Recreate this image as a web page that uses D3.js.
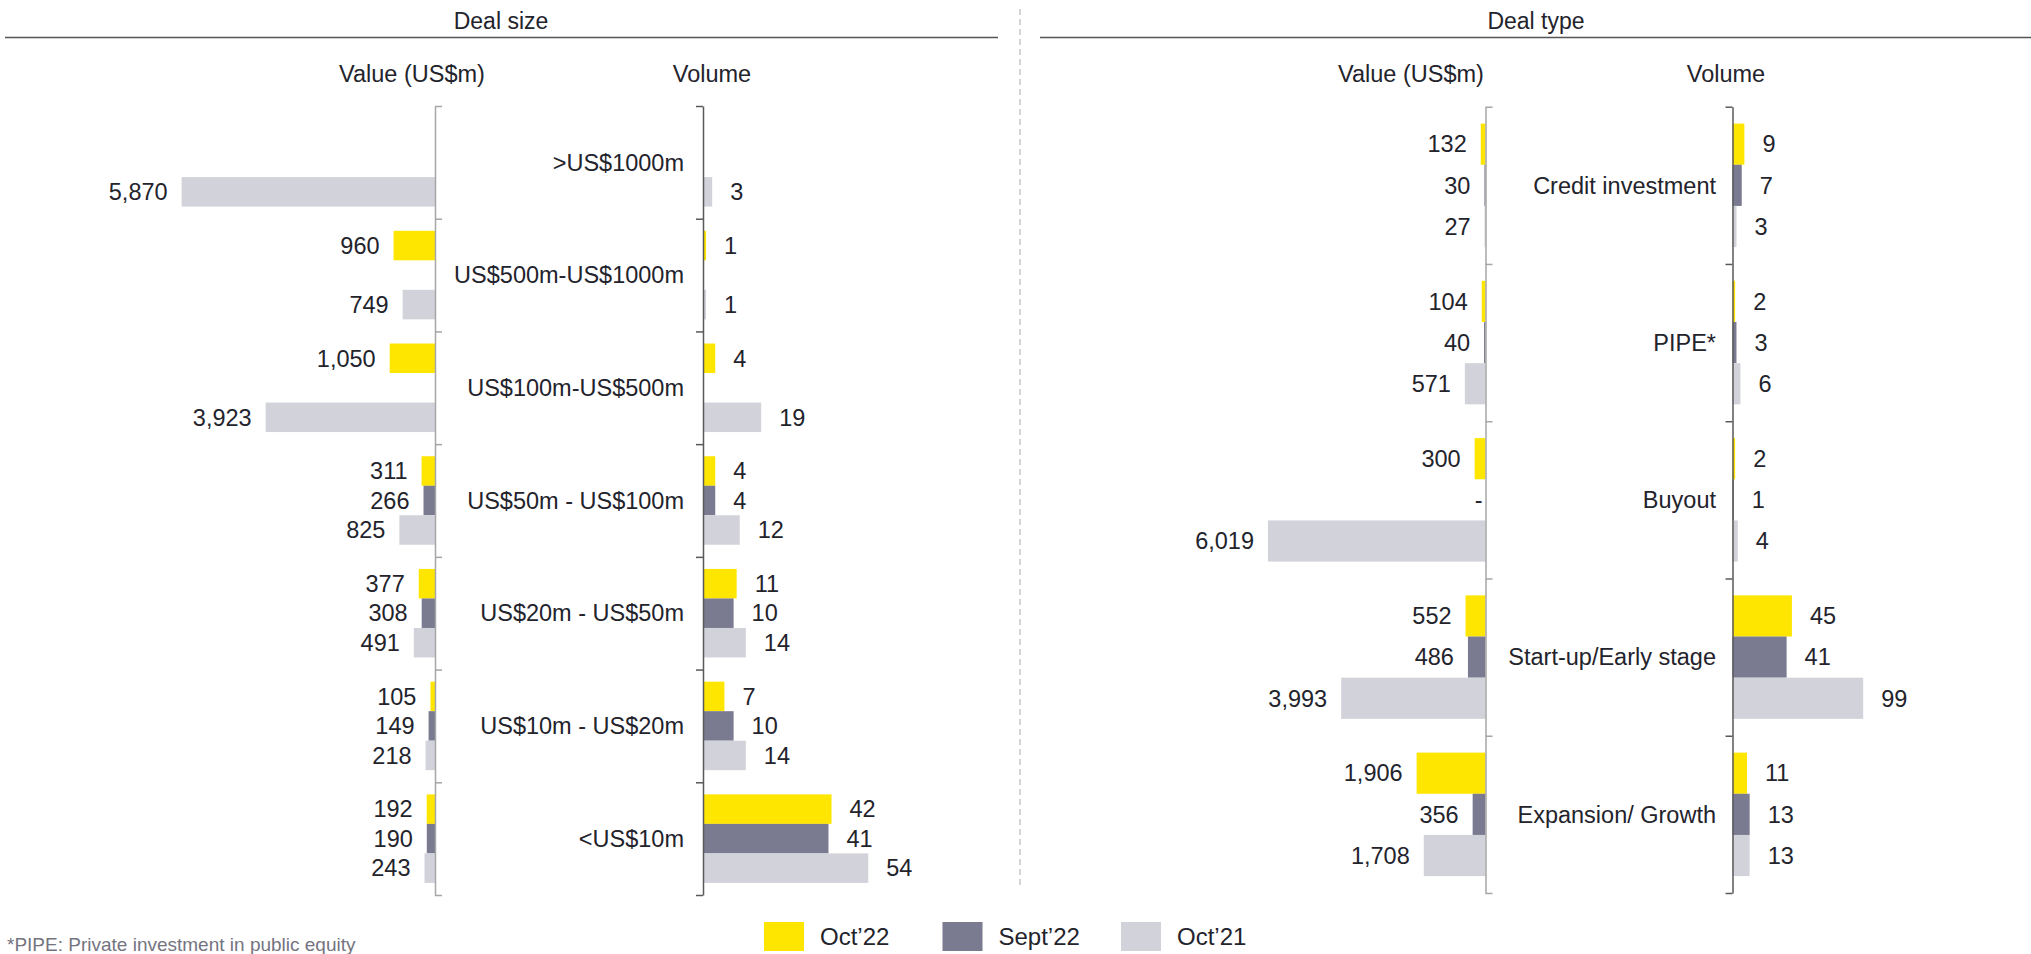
<!DOCTYPE html>
<html>
<head>
<meta charset="utf-8">
<script src="https://cdn.jsdelivr.net/npm/d3@7"></script>
<style>
  html, body { margin: 0; padding: 0; background: #fff; }
  svg text { font-family: "Liberation Sans", Arial, sans-serif; fill: #23232c; }
</style>
</head>
<body>
<script>
// chart size
let w = 2031;
let h = 954;

// series
let seriesNames = ["Oct’22", "Sept’22", "Oct’21"];
let seriesColors = ["#ffe600", "#7a7a90", "#d2d2da"];

// Deal size panel
let sizeCats = [">US$1000m", "US$500m-US$1000m", "US$100m-US$500m", "US$50m - US$100m",
                "US$20m - US$50m", "US$10m - US$20m", "<US$10m"];
let sizeValueOct22  = [null, 960, 1050, 311, 377, 105, 192];
let sizeValueSept22 = [null, null, null, 266, 308, 149, 190];
let sizeValueOct21  = [5870, 749, 3923, 825, 491, 218, 243];
let sizeVolOct22  = [null, 1, 4, 4, 11, 7, 42];
let sizeVolSept22 = [null, null, null, 4, 10, 10, 41];
let sizeVolOct21  = [3, 1, 19, 12, 14, 14, 54];

// Deal type panel
let typeCats = ["Credit investment", "PIPE*", "Buyout", "Start-up/Early stage", "Expansion/ Growth"];
let typeValueOct22  = [132, 104, 300, 552, 1906];
let typeValueSept22 = [30, 40, 0, 486, 356];
let typeValueOct21  = [27, 571, 6019, 3993, 1708];
let typeVolOct22  = [9, 2, 2, 45, 11];
let typeVolSept22 = [7, 3, 1, 41, 13];
let typeVolOct21  = [3, 6, 4, 99, 13];

let fmt = d3.format(",");

let svg = d3.select("body").append("svg")
    .attr("width", w)
    .attr("height", h);

//section titles + rules
svg.append("text").attr("x", 501).attr("y", 29).attr("text-anchor", "middle")
    .style("font-size", "23px").text("Deal size");
svg.append("line").attr("x1", 5).attr("x2", 998).attr("y1", 37.5).attr("y2", 37.5)
    .style("stroke", "#555").style("stroke-width", 1.5);
svg.append("text").attr("x", 1536).attr("y", 29).attr("text-anchor", "middle")
    .style("font-size", "23px").text("Deal type");
svg.append("line").attr("x1", 1040).attr("x2", 2031).attr("y1", 37.5).attr("y2", 37.5)
    .style("stroke", "#555").style("stroke-width", 1.5);

//dashed divider
svg.append("line").attr("x1", 1020).attr("x2", 1020).attr("y1", 9).attr("y2", 888)
    .style("stroke", "#c8c8c8").style("stroke-width", 1.5)
    .style("stroke-dasharray", "6,4");

function drawPanel(cfg, cats, valueSeries, volSeries) {
    let g = svg.append("g");

    let y = d3.scaleBand().domain(cats).range([cfg.top, cfg.bottom]).padding(0);
    let ys = d3.scaleBand().domain(seriesNames).range([0, y.bandwidth()])
        .paddingInner(0).paddingOuter(0.41);

    let xv = d3.scaleLinear().domain([0, cfg.valueMax]).range([cfg.valueX, cfg.valueX - cfg.valueW]);
    let xn = d3.scaleLinear().domain([0, cfg.volMax]).range([cfg.volX, cfg.volX + cfg.volW]);

    // sub headers
    g.append("text").attr("x", cfg.valueHead).attr("y", 82).attr("text-anchor", "middle")
        .style("font-size", "23.5px").text("Value (US$m)");
    g.append("text").attr("x", cfg.volHead).attr("y", 82).attr("text-anchor", "middle")
        .style("font-size", "23.5px").text("Volume");

    // flatten rows
    let rows = [];
    cats.forEach(function(c, i) {
        seriesNames.forEach(function(s, j) {
            rows.push({ cat: c, s: s, j: j, value: valueSeries[j][i], vol: volSeries[j][i] });
        });
    });

    // value bars (to the left)
    g.selectAll(".vbar").data(rows.filter(function(d) { return d.value > 0; }))
        .enter().append("rect")
        .attr("x", function(d) { return xv(d.value); })
        .attr("y", function(d) { return y(d.cat) + ys(d.s); })
        .attr("width", function(d) { return cfg.valueX - xv(d.value); })
        .attr("height", ys.bandwidth())
        .style("fill", function(d) { return seriesColors[d.j]; });

    // volume bars (to the right)
    g.selectAll(".nbar").data(rows.filter(function(d) { return d.vol > 0; }))
        .enter().append("rect")
        .attr("x", cfg.volX)
        .attr("y", function(d) { return y(d.cat) + ys(d.s); })
        .attr("width", function(d) { return xn(d.vol) - cfg.volX; })
        .attr("height", ys.bandwidth())
        .style("fill", function(d) { return seriesColors[d.j]; });

    // axes: index scale so ticks fall on band edges
    let yi = d3.scaleLinear().domain([0, cats.length]).range([cfg.top, cfg.bottom]);
    let axV = g.append("g").attr("transform", "translate(" + cfg.valueX + ",0)")
        .call(d3.axisRight(yi).ticks(cats.length).tickSize(7).tickSizeOuter(0).tickFormat(""));
    axV.selectAll("path, line").style("stroke", "#a6a6a6").style("stroke-width", 1.5);
    let axN = g.append("g").attr("transform", "translate(" + cfg.volX + ",0)")
        .call(d3.axisLeft(yi).ticks(cats.length).tickSize(7).tickSizeOuter(0).tickFormat(""));
    axN.selectAll("path, line").style("stroke", "#595959").style("stroke-width", 1.5);

    // value labels
    g.selectAll(".vlab").data(rows.filter(function(d) { return d.value !== null; }))
        .enter().append("text")
        .attr("x", function(d) { return d.value === 0 ? cfg.valueX - 3 : xv(d.value) - 14; })
        .attr("y", function(d) { return y(d.cat) + ys(d.s) + ys.bandwidth() / 2; })
        .attr("dy", "0.35em")
        .attr("text-anchor", "end")
        .style("font-size", "23.5px")
        .text(function(d) { return d.value === 0 ? "-" : fmt(d.value); });

    // volume labels
    g.selectAll(".nlab").data(rows.filter(function(d) { return d.vol !== null; }))
        .enter().append("text")
        .attr("x", function(d) { return xn(d.vol) + 18; })
        .attr("y", function(d) { return y(d.cat) + ys(d.s) + ys.bandwidth() / 2; })
        .attr("dy", "0.35em")
        .style("font-size", "23.5px")
        .text(function(d) { return fmt(d.vol); });

    // category labels
    g.selectAll(".clab").data(cats).enter().append("text")
        .attr("x", cfg.labelX)
        .attr("y", function(d) { return y(d) + y.bandwidth() / 2; })
        .attr("dy", "0.35em")
        .attr("text-anchor", "end")
        .style("font-size", "23.5px")
        .text(function(d) { return d; });
}

drawPanel({ top: 106, bottom: 895, valueX: 435, valueMax: 6000, valueW: 259,
            volX: 703, volMax: 60, volW: 183.6, labelX: 684, valueHead: 412, volHead: 712 },
          sizeCats,
          [sizeValueOct22, sizeValueSept22, sizeValueOct21],
          [sizeVolOct22, sizeVolSept22, sizeVolOct21]);

drawPanel({ top: 106.7, bottom: 893, valueX: 1485.5, valueMax: 7000, valueW: 253,
            volX: 1732.5, volMax: 100, volW: 132, labelX: 1716, valueHead: 1411, volHead: 1726 },
          typeCats,
          [typeValueOct22, typeValueSept22, typeValueOct21],
          [typeVolOct22, typeVolSept22, typeVolOct21]);

// footnote
svg.append("text").attr("x", 7).attr("y", 951)
    .style("font-size", "19px").style("fill", "#747480")
    .text("*PIPE: Private investment in public equity");

// legend, items on a fixed step
let legend = svg.append("g").attr("transform", "translate(764,922)");
let item = legend.selectAll("g").data(seriesNames).enter().append("g")
    .attr("transform", function(d, i) { return "translate(" + (i * 178.5) + ",0)"; });
item.append("rect").attr("width", 40).attr("height", 29)
    .style("fill", function(d, i) { return seriesColors[i]; });
item.append("text").attr("x", 56).attr("y", 14.5).attr("dy", "0.35em")
    .style("font-size", "24px").text(function(d) { return d; });
</script>
</body>
</html>
